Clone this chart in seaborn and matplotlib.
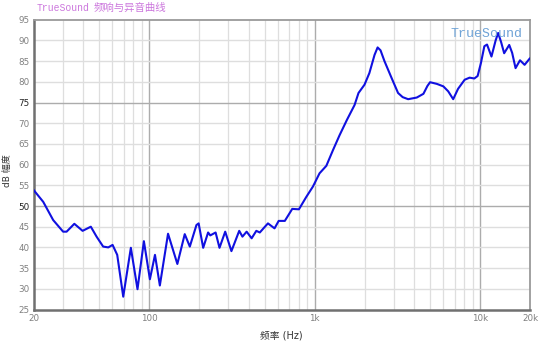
import numpy as np
import pandas as pd
import matplotlib
matplotlib.use("Agg")
import matplotlib.pyplot as plt
import seaborn as sns

# ---- data ----
freq_hz = [20, 22.9, 26.3, 30.2, 31.7, 35.3, 39.6, 44.4, 48.1, 52.7, 56.6, 60.1,
           64.1, 69.7, 77.5, 85, 92.9, 101, 108.4, 116, 130, 148, 164, 176, 193,
           199, 212, 227, 234, 252, 266, 288, 314, 350, 366, 388, 416, 444, 466,
           498, 522, 572, 606, 660, 732, 803, 890, 976, 1070, 1176, 1290, 1414,
           1566, 1742, 1840, 2000, 2140, 2300, 2400, 2500, 2640, 2910, 3190, 3400,
           3670, 3900, 4140, 4540, 4800, 4980, 5470, 5990, 6410, 6870, 7350, 8060,
           8630, 9220, 9650, 10100, 10600, 11000, 11700, 12400, 12840, 13400,
           13960, 14980, 15600, 16360, 17400, 18550, 20000]
level_db = [53.9, 51.0, 46.6, 43.8, 43.8, 45.7, 44.0, 45.0, 42.6, 40.2, 40.0, 40.6,
            38.2, 28.1, 39.9, 29.9, 41.5, 32.3, 38.2, 30.8, 43.3, 36.0, 43.2, 40.2, 45.4,
            45.8, 39.9, 43.6, 42.9, 43.6, 39.9, 43.8, 39.1, 44.0, 42.6, 43.8,
            42.2, 44.0, 43.6, 44.9, 45.8, 44.6, 46.4, 46.4, 49.3, 49.2, 52.2, 54.7,
            57.9, 59.7, 63.5, 67.1, 70.8, 74.4, 77.3, 79.3, 82.1, 86.5, 88.3, 87.6,
            85.0, 81.0, 77.3, 76.3, 75.8, 76.0, 76.2, 77.1, 79.0, 79.9, 79.5, 78.9,
            77.7, 75.8, 78.3, 80.5, 81.0, 80.8, 81.4, 84.5, 88.6, 89.0, 86.1, 90.0,
            91.8, 89.5, 86.9, 88.9, 87.0, 83.3, 85.2, 84.1, 85.7]

y_ticks = [25, 30, 35, 40, 45, 50, 55, 60, 65, 70, 75, 80, 85, 90, 95]
x_ticks = [20, 100, 1000, 10000, 20000]
x_tick_labels = ["20", "100", "1k", "10k", "20k"]
title_en = "TrueSound"
title_cn = "频响与异音曲线"
x_label = "频率 (Hz)"
y_label = "dB 幅度"

df = pd.DataFrame({"freq": freq_hz, "db": level_db})

sns.set_theme(style="white")
plt.rcParams["font.family"] = ["DejaVu Sans", "Noto Sans CJK SC"]

fig = plt.figure(figsize=(5.5, 3.44), dpi=100)
ax = fig.add_axes([33.5 / 550, 1 - 309.5 / 344, (530 - 33.5) / 550, (309.5 - 19.7) / 344])

ax.set_xscale("log")
ax.set_xlim(20, 20000)
ax.set_ylim(25, 95)

# grid
minor_x = []
for dec in [10, 100, 1000, 10000]:
    for m in range(2, 10):
        v = dec * m
        if 20 < v < 20000 and v not in (100, 1000, 10000):
            minor_x.append(v)
for v in minor_x:
    ax.axvline(v, color="#dedede", lw=0.9, zorder=0)
for v in [100, 1000, 10000]:
    ax.axvline(v, color="#acacac", lw=1.0, zorder=0)
for v in y_ticks[1:-1]:
    c = "#acacac" if v in (50, 75) else "#dedede"
    ax.axhline(v, color=c, lw=1.0, zorder=0)

sns.lineplot(data=df, x="freq", y="db", ax=ax, color="#1010e0", lw=1.5, zorder=3)

ax.set_xticks(x_ticks)
ax.set_xticklabels(x_tick_labels)
ax.xaxis.set_minor_locator(matplotlib.ticker.NullLocator())
ax.set_yticks(y_ticks)
ax.tick_params(axis="both", length=0, labelsize=6.3, labelcolor="#808080", pad=3)
for lab in ax.get_yticklabels():
    if lab.get_text() in ("50", "75"):
        lab.set_color("#222222")

ax.set_xlabel(x_label, fontsize=7, color="#333333")
ax.set_ylabel(y_label, fontsize=6.5, color="#333333")
ax.xaxis.set_label_coords(0.5, -0.071)
ax.yaxis.set_label_coords(-0.043, 0.48)

for s in ["left", "bottom"]:
    ax.spines[s].set_color("#707070")
    ax.spines[s].set_linewidth(1.8)
for s in ["top", "right"]:
    ax.spines[s].set_color("#9a9a9a")
    ax.spines[s].set_linewidth(1.3)

fig.text(37 / 550, 1 - 8 / 344, title_en, fontsize=7, color="#cc77dd",
         family=["Liberation Mono", "Noto Sans CJK SC"], va="center", ha="left")
fig.text(94 / 550, 1 - 8 / 344, title_cn, fontsize=7.5, color="#cc77dd",
         family=["Noto Sans CJK SC", "DejaVu Sans"], va="center", ha="left")
ax.text(0.985, 0.97, title_en, transform=ax.transAxes, fontsize=9.5, color="#6fa3d6",
        family=["Liberation Mono", "DejaVu Sans Mono"], va="top", ha="right", zorder=5)

fig.savefig("out.png", dpi=100)
